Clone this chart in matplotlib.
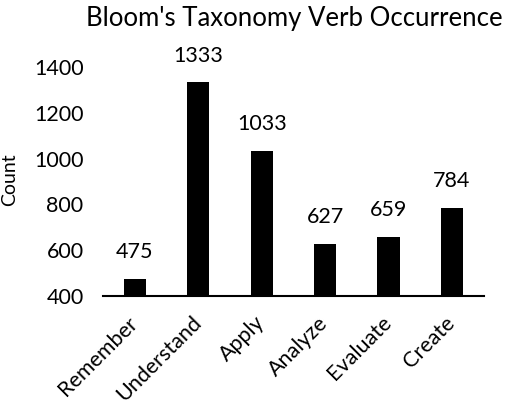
import matplotlib
matplotlib.use("Agg")
import matplotlib.pyplot as plt
import matplotlib.transforms as mtransforms

categories = ["Remember", "Understand", "Apply", "Analyze", "Evaluate", "Create"]
counts = [475, 1333, 1033, 627, 659, 784]
yticks = [400, 600, 800, 1000, 1200, 1400]

plt.rcParams['font.family'] = ['Lato', 'DejaVu Sans']

fs = 15.5
fig = plt.figure(figsize=(5.05, 4.07), dpi=100)
ax = fig.add_axes([0.204, 0.273, 0.754, 0.562])
x = range(len(categories))
bars = ax.bar(x, counts, width=0.35, color='black')
ax.set_ylim(400, 1400)
ax.set_xlim(-0.5, len(categories) - 0.5)
ax.set_yticks(yticks)
ax.set_yticklabels([str(t) for t in yticks], fontsize=fs)
ax.set_xticks(list(x))
ax.set_xticklabels(categories, rotation=45, ha='right', va='top',
                   rotation_mode='anchor', fontsize=15.5)
ax.tick_params(axis='y', length=0, pad=14)
ax.tick_params(axis='x', length=0, pad=12)
offset = mtransforms.ScaledTranslation(-7 / 100, 0, fig.dpi_scale_trans)
for lab in ax.get_xticklabels():
    lab.set_transform(lab.get_transform() + offset)
for s in ['top', 'right', 'left']:
    ax.spines[s].set_visible(False)
ax.spines['bottom'].set_linewidth(1.5)
for b, v in zip(bars, counts):
    ax.annotate(str(v), (b.get_x() + b.get_width() / 2, v), xytext=(0, 12),
                textcoords='offset points', ha='center', va='bottom',
                fontsize=fs, annotation_clip=False)
fig.text(0.02, 0.558, "Count", rotation=90, ha='center', va='center', fontsize=14)
fig.text(0.582, 0.955, "Bloom's Taxonomy Verb Occurrence", ha='center', va='center',
         fontsize=18.5)
fig.savefig("out.png", dpi=100)
